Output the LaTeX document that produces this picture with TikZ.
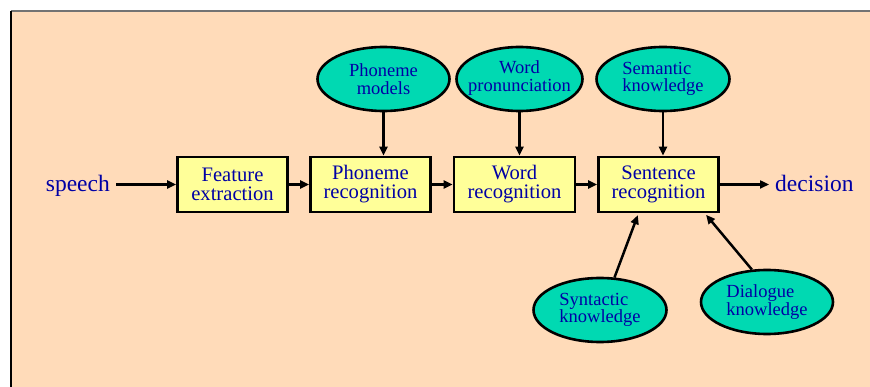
\documentclass[tikz,border=0pt]{standalone}
\usepackage{fontspec}
\setmainfont{Liberation Serif}
\usetikzlibrary{arrows.meta,shapes.geometric}

\definecolor{peach}{RGB}{255,219,185}
\definecolor{boxyellow}{RGB}{255,255,153}
\definecolor{knowteal}{RGB}{0,217,178}
\definecolor{inkblue}{RGB}{0,0,165}

% two centred lines that do not widen the surrounding shape
\newcommand\tightpair[2]{\makebox[0pt]{\begin{tabular}{@{}c@{}}#1\\#2\end{tabular}}}

\tikzset{
  stagebox/.style={draw=black, line width=2.6pt, fill=boxyellow, rectangle,
    minimum height=55pt, inner sep=0pt, align=center, text=inkblue,
    font=\fontsize{20.6}{19}\selectfont},
  knowbox/.style={draw=black, line width=2.6pt, fill=knowteal, ellipse,
    minimum width=132pt, minimum height=64pt, inner sep=0pt, text=inkblue,
    font=\fontsize{18.5}{17.6}\selectfont},
  ioword/.style={text=inkblue, inner ysep=0pt, font=\fontsize{23.5}{24}\selectfont},
  flow/.style={line width=2.5pt, -{Triangle[length=9pt,width=8pt]}}
}

\begin{document}
\begin{tikzpicture}[x=1pt,y=-1pt]
\useasboundingbox (0,0) rectangle (870,387);
% slide panel
\fill[peach] (11,11) rectangle (871,388);
\draw[black!55, line width=1.5pt] (11,11) -- (871,11);
\draw[black, line width=1.5pt] (11,11) -- (11,388);

% processing stages
\node[stagebox, minimum width=110pt] (fe) at (232.5,184.5) {Feature\\extraction};
\node[stagebox, minimum width=120pt] (pr) at (370.5,184.5) {Phoneme\\recognition};
\node[stagebox, minimum width=121pt] (wr) at (514.5,184.5) {Word\\recognition};
\node[stagebox, minimum width=120pt] (sr) at (658.5,184.5) {Sentence\\recognition};

% input and output
\node[ioword, anchor=base east, inner xsep=6pt] (sp) at (116,191.7) {speech};
\node[ioword, anchor=base west, inner xsep=6pt] (dc) at (769,192) {decision};

% knowledge sources
\node[knowbox, align=center] (pm) at (383.5,79) {Phoneme\\models};
\node[knowbox, minimum width=126pt] (wp) at (519.5,79) {\tightpair{Word}{pronunciation}};
\node[knowbox, align=left, minimum width=133pt] (sk) at (663,79) {Semantic\\knowledge};
\node[knowbox, align=left, minimum width=133pt] (yk) at (600,310) {Syntactic\\knowledge};
\node[knowbox, align=left] (dk) at (767,302) {Dialogue\\knowledge};

% main pipeline
\draw[flow] (sp.east |- fe.west) -- (fe.west);
\draw[flow] (fe) -- (pr);
\draw[flow] (pr) -- (wr);
\draw[flow] (wr) -- (sr);
\draw[flow] (sr.east) -- (dc.west |- sr.east);

% knowledge inputs from above
\draw[flow] (pm.south) -- (pm.south |- pr.north);
\draw[flow] (wp.south) -- (wp.south |- wr.north);
\draw[flow] (sk.south) -- (sk.south |- sr.north);

% knowledge inputs from below
\draw[flow, shorten >=2pt] (yk.66) -- ([xshift=-20pt]sr.south);
\draw[flow, shorten >=2pt] (dk.115) -- ([xshift=-15pt]sr.south east);
\end{tikzpicture}
\end{document}
